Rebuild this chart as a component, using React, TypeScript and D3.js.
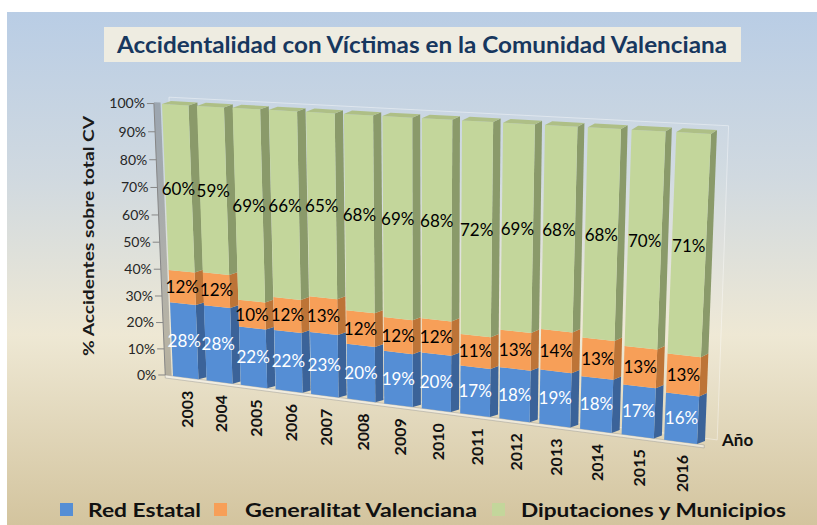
import React from 'react';
import * as d3 from 'd3';

const years = ['2003','2004','2005','2006','2007','2008','2009','2010','2011','2012','2013','2014','2015','2016'];
const redEstatal = [28,28,22,22,23,20,19,20,17,18,19,18,17,16];
const generalitat = [12,12,10,12,13,12,12,12,11,13,14,13,13,13];
const diputaciones = [60,59,69,66,65,68,69,68,72,69,68,68,70,71];
const seriesKeys = ['Red Estatal','Generalitat Valenciana','Diputaciones y Municipios'];
const yTicks = [0,10,20,30,40,50,60,70,80,90,100];

const W = 817, H = 525;
const FONT = 'Lato, "Open Sans", sans-serif';

const frontCol = ['#558ed5', '#f79f58', '#c3d69b'];
const sideCol = ['#3b6399', '#bd7437', '#8a9a6a'];
const topCol = '#aebf86';
const labelCol = ['#ffffff', '#000000', '#000000'];

type P = [number, number];
function homography(q0: P, q1: P, q2: P, q3: P) {
  const [x0, y0] = q0, [x1, y1] = q1, [x2, y2] = q2, [x3, y3] = q3;
  const dx1 = x1 - x2, dx2 = x3 - x2, dx3 = x0 - x1 + x2 - x3;
  const dy1 = y1 - y2, dy2 = y3 - y2, dy3 = y0 - y1 + y2 - y3;
  const den = dx1 * dy2 - dx2 * dy1;
  const g = (dx3 * dy2 - dx2 * dy3) / den;
  const h = (dx1 * dy3 - dx3 * dy1) / den;
  const a = x1 - x0 + g * x1, b = x3 - x0 + h * x3, c = x0;
  const d = y1 - y0 + g * y1, e = y3 - y0 + h * y3, f = y0;
  return (u: number, v: number): P => {
    const w = g * u + h * v + 1;
    return [(a * u + b * v + c) / w, (d * u + e * v + f) / w];
  };
}

// plane corners: (u,v) = (0,0) BL, (1,0) BR, (1,1) TR, (0,1) TL
const front = homography([173, 376], [697, 444], [711, 134], [162, 104]);
const back = homography([181, 374], [705, 441], [717, 130], [171, 101]);
const wall = homography([186, 372], [710, 439], [721, 127], [177, 99]);

const poly = (pts: P[]) => 'M' + pts.map(p => p[0].toFixed(2) + ',' + p[1].toFixed(2)).join('L') + 'Z';

export default function App() {
  const rows = years.map((y, i) => ({
    year: y,
    'Red Estatal': redEstatal[i],
    'Generalitat Valenciana': generalitat[i],
    'Diputaciones y Municipios': diputaciones[i],
  }));
  const stacked = d3.stack<any>().keys(seriesKeys).offset(d3.stackOffsetExpand)(rows);
  const x = d3.scaleBand<string>().domain(years).range([0, 1]).paddingInner(0.24).paddingOuter(0);
  const y = d3.scaleLinear().domain([0, 1]).range([0, 1]);
  const bw = x.bandwidth();
  const uAxis = -0.017;

  const bars: React.ReactNode[] = [];
  const labels: React.ReactNode[] = [];
  years.forEach((yr, i) => {
    const ul = x(yr)!, ur = ul + bw, uc = ul + bw / 2;
    stacked.forEach((s, k) => {
      const v0 = y(s[i][0]), v1 = y(s[i][1]);
      bars.push(<path key={`s${i}-${k}`} d={poly([front(ur, v0), front(ur, v1), back(ur, v1), back(ur, v0)])} fill={sideCol[k]} />);
      bars.push(<path key={`f${i}-${k}`} d={poly([front(ul, v0), front(ur, v0), front(ur, v1), front(ul, v1)])} fill={frontCol[k]} />);
      if (k === stacked.length - 1) {
        bars.push(<path key={`t${i}`} d={poly([front(ul, v1), front(ur, v1), back(ur, v1), back(ul, v1)])} fill={topCol} />);
      }
      const val = [redEstatal, generalitat, diputaciones][k][i];
      const p = front(uc, (v0 + v1) / 2);
      labels.push(
        <text key={`l${i}-${k}`} x={p[0]} y={p[1]} dy="0.35em" textAnchor="middle" fontSize={17} fill={labelCol[k]} fontFamily={FONT}>{val}%</text>
      );
    });
  });

  const legendItems = [
    { sq: 60, tx: 88, len: 113 },
    { sq: 214, tx: 245, len: 232 },
    { sq: 492, tx: 521, len: 265 },
  ];

  return (
    <svg width={W} height={H} style={{ position: 'absolute', left: 0, top: 0, display: 'block' }} xmlns="http://www.w3.org/2000/svg">
      <defs>
        <linearGradient id="bg" x1="0" y1="0" x2="0" y2="1">
          <stop offset="0" stopColor="#b9cde5" />
          <stop offset="0.32" stopColor="#d0d9e0" />
          <stop offset="0.63" stopColor="#eee8d4" />
          <stop offset="1" stopColor="#d3c49e" />
        </linearGradient>
      </defs>
      <rect x={0} y={0} width={W} height={H} fill="#ffffff" />
      <rect x={7} y={12} width={W - 7} height={H - 12} fill="url(#bg)" />

      {/* title */}
      <rect x={104} y={27} width={637} height={35} fill="#eeece1" />
      <text x={422} y={45} dy="0.35em" textAnchor="middle" fontSize={22} fontWeight="bold" fill="#17375e" fontFamily={FONT} textLength={610} lengthAdjust="spacingAndGlyphs">Accidentalidad con Víctimas en la Comunidad Valenciana</text>

      {/* back wall */}
      <path d={poly([wall(uAxis, 0), wall(1.012, 0), wall(1.012, 1.005), wall(uAxis, 1.005)])} fill="#ffffff" fillOpacity={0.06} stroke="#ffffff" strokeOpacity={0.4} strokeWidth={1} />
      {/* side wall edge */}
      <path d={poly([front(uAxis, 0), front(-0.003, 0), front(-0.003, 1.005), front(uAxis, 1.005)])} fill="#3c3c3c" fillOpacity={0.3} />
      {/* floor edge */}
      <path d={poly([front(uAxis, 0), front(1.012, 0), [front(1.012, 0)[0], front(1.012, 0)[1] + 3], [front(uAxis, 0)[0], front(uAxis, 0)[1] + 3]])} fill="#ffffff" fillOpacity={0.45} stroke="#8c8c8c" strokeOpacity={0.5} strokeWidth={0.8} />

      {bars}
      {labels}

      {/* y axis */}
      <line x1={front(uAxis, 0)[0]} y1={front(uAxis, 0)[1]} x2={front(uAxis, 1)[0]} y2={front(uAxis, 1)[1]} stroke="#868686" strokeWidth={1} />
      {yTicks.map(t => {
        const p = front(uAxis, y(t / 100));
        return (
          <g key={`yt${t}`}>
            <line x1={p[0] - 7} y1={p[1]} x2={p[0]} y2={p[1]} stroke="#868686" strokeWidth={1} />
            <text x={p[0] - 9} y={p[1]} dy="0.35em" textAnchor="end" fontSize={14} fill="#262626" fontFamily={FONT}>{t}%</text>
          </g>
        );
      })}
      <text transform="translate(88,236) rotate(-90)" dy="0.35em" textAnchor="middle" fontSize={16} fontWeight="bold" fill="#1a1a1a" fontFamily={FONT} textLength={240} lengthAdjust="spacingAndGlyphs">% Accidentes sobre total CV</text>

      {/* x labels */}
      {years.map(yr => {
        const p = front(x(yr)! + bw / 2, 0);
        return (
          <text key={`xl${yr}`} transform={`translate(${p[0] + 2},${p[1] + 13}) rotate(-90)`} dy="0.35em" textAnchor="end" fontSize={16} fontWeight="bold" fill="#111111" fontFamily={FONT}>{yr}</text>
        );
      })}
      <text x={722} y={440} dy="0.35em" fontSize={17} fontWeight="bold" fill="#111111" fontFamily={FONT}>Año</text>

      {/* legend */}
      {legendItems.map((it, k) => (
        <g key={`lg${k}`}>
          <rect x={it.sq} y={503} width={13} height={13} fill={frontCol[k]} />
          <text x={it.tx} y={510} dy="0.35em" fontSize={19} fontWeight="bold" fill="#111111" fontFamily={FONT} textLength={it.len} lengthAdjust="spacingAndGlyphs">{seriesKeys[k]}</text>
        </g>
      ))}
    </svg>
  );
}
